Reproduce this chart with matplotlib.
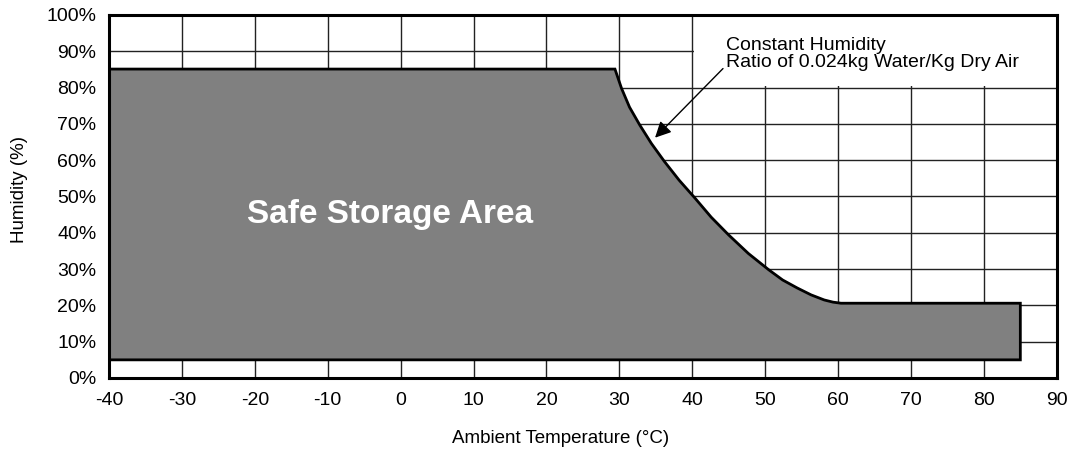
import matplotlib
matplotlib.use("Agg")
import matplotlib.pyplot as plt
from matplotlib.patches import Rectangle

plt.rcParams['font.family'] = ['Liberation Sans', 'DejaVu Sans']
plt.rcParams['axes.unicode_minus'] = False

# upper limit of the safe storage area (temperature degC, humidity %)
temp_upper = [-40, 29.4, 30.3, 31.4, 32.8, 34.4, 36.2, 38.2, 40.4, 42.6, 45.0,
              47.7, 50.5, 52.4, 54.4, 56.3, 58.1, 59.3, 60.4, 85]
hum_upper = [85.1, 85.1, 79.8, 74.6, 69.7, 64.6, 59.6, 54.5, 49.5, 44.3, 39.4,
             34.3, 29.8, 27.0, 24.8, 22.9, 21.5, 20.9, 20.6, 20.6]
hum_lower = 5
temp_max = 85

x_ticks = list(range(-40, 91, 10))
y_ticks = list(range(0, 101, 10))
y_ticklabels = [f"{v}%" for v in y_ticks]

fig = plt.figure(figsize=(10.82, 4.5), dpi=100)
ax = fig.add_axes([0.1007, 0.16, 0.876, 0.8067])

ax.set_xlim(-40, 90)
ax.set_ylim(0, 100)
ax.set_xticks(x_ticks)
ax.set_yticks(y_ticks)
ax.set_yticklabels(y_ticklabels)
ax.tick_params(length=0, labelsize=14, pad=9)
ax.tick_params(axis='x', pad=10)

ax.set_axisbelow(True)
ax.grid(True, color='#222222', linewidth=1.0)

# white box behind the annotation text, hides the grid there
ax.add_patch(Rectangle((40.2, 80.3), 49.8, 19.7, facecolor='white',
                       edgecolor='none', zorder=0.8))

poly_x = temp_upper + [temp_max, temp_upper[0]]
poly_y = hum_upper + [hum_lower, hum_lower]
ax.fill(poly_x, poly_y, facecolor='#808080', edgecolor='black',
        linewidth=2.0, zorder=2)

ax.text(-1.5, 45, "Safe Storage Area", color='white', fontsize=24,
        fontweight='bold', ha='center', va='center', zorder=3)

ax.annotate("Constant Humidity\nRatio of 0.024kg Water/Kg Dry Air",
            xy=(34.9, 66.2), xytext=(44.6, 89.3),
            fontsize=14, ha='left', va='center', linespacing=1.0,
            arrowprops=dict(arrowstyle='-|>', color='black', lw=1.0,
                            mutation_scale=24, shrinkA=0, shrinkB=0,
                            relpos=(0, 0.15)),
            zorder=4)

for s in ax.spines.values():
    s.set_linewidth(2.2)
    s.set_zorder(5)

ax.set_xlabel("Ambient Temperature (\u00b0C)", fontsize=13.5)
ax.xaxis.set_label_coords(0.476, -0.143)
ax.set_ylabel("Humidity (%)", fontsize=13.5)
ax.yaxis.set_label_coords(-0.085, 0.52)

fig.savefig("out.png", dpi=100)
